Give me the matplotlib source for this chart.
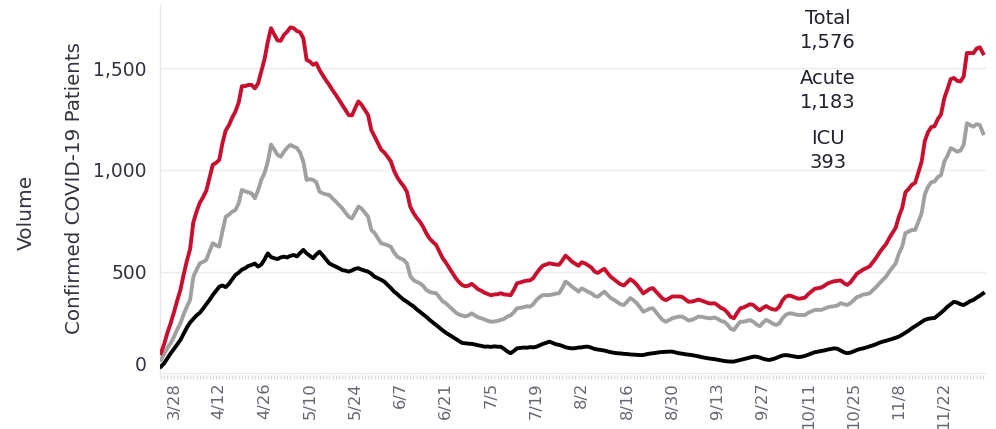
import numpy as np
import matplotlib
matplotlib.use("Agg")
import matplotlib.pyplot as plt
import matplotlib.transforms as mtransforms

# ---- data (daily, 255 days) ----
icu = [
    33, 50, 75, 99, 120, 142, 164, 195, 225, 250,
    268, 285, 298, 318, 340, 361, 385, 405, 426, 432,
    424, 440, 462, 484, 495, 510, 517, 528, 533, 540,
    525, 535, 560, 590, 572, 566, 562, 570, 574, 570,
    578, 582, 575, 592, 607, 590, 578, 566, 585, 598,
    580, 560, 541, 532, 525, 517, 508, 505, 500, 506,
    514, 517, 510, 505, 500, 490, 475, 468, 460, 451,
    435, 420, 402, 390, 375, 362, 352, 340, 330, 315,
    303, 290, 278, 263, 250, 238, 225, 212, 200, 190,
    180, 170, 160, 150, 148, 146, 145, 142, 138, 135,
    131, 132, 130, 133, 131, 131, 120, 108, 99, 110,
    123, 125, 127, 126, 129, 128, 131, 138, 145, 150,
    156, 150, 143, 140, 135, 128, 125, 123, 124, 127,
    128, 131, 131, 126, 120, 117, 115, 112, 108, 104,
    101, 99, 98, 96, 95, 93, 92, 91, 90, 90,
    94, 97, 99, 101, 104, 105, 106, 107, 107, 103,
    99, 97, 94, 92, 90, 87, 84, 80, 77, 74,
    72, 70, 67, 64, 61, 59, 58, 58, 62, 66,
    70, 74, 78, 82, 82, 78, 72, 68, 66, 70,
    75, 82, 88, 90, 88, 85, 82, 80, 82, 86,
    92, 98, 104, 107, 110, 113, 117, 120, 123, 121,
    112, 104, 99, 102, 108, 115, 120, 123, 128, 133,
    138, 144, 151, 156, 160, 165, 170, 175, 181, 190,
    200, 210, 222, 232, 242, 253, 263, 268, 271, 272,
    285, 298, 312, 328, 340, 352, 348, 340, 336, 345,
    355, 361, 372, 382, 393,
]

acute = [
    66, 95, 125, 148, 180, 215, 246, 290, 328, 361,
    475, 510, 541, 548, 558, 600, 640, 630, 623, 700,
    770, 780, 795, 803, 836, 902, 895, 890, 885, 861,
    900, 951, 985, 1040, 1125, 1100, 1075, 1065, 1090, 1110,
    1123, 1115, 1108, 1085, 1040, 951, 955, 951, 940, 893,
    885, 880, 877, 860, 845, 828, 812, 790, 770, 762,
    790, 820, 810, 790, 770, 705, 690, 665, 640, 635,
    630, 623, 595, 574, 565, 558, 540, 480, 459, 450,
    443, 430, 410, 400, 396, 394, 375, 355, 345, 330,
    315, 300, 290, 285, 280, 285, 295, 285, 275, 271,
    265, 258, 254, 255, 258, 263, 268, 279, 285, 300,
    320, 322, 325, 330, 328, 340, 361, 375, 385, 385,
    385, 388, 392, 394, 420, 451, 440, 426, 415, 402,
    418, 410, 400, 394, 380, 377, 390, 402, 385, 370,
    361, 350, 340, 336, 352, 370, 360, 345, 325, 303,
    310, 318, 320, 300, 280, 262, 254, 262, 271, 275,
    279, 279, 270, 260, 263, 270, 279, 278, 275, 272,
    271, 275, 268, 258, 254, 240, 220, 213, 235, 254,
    254, 258, 262, 254, 240, 232, 250, 263, 255, 245,
    238, 245, 270, 287, 295, 294, 290, 287, 287, 287,
    298, 305, 312, 312, 312, 318, 325, 328, 330, 334,
    345, 340, 336, 345, 360, 375, 380, 388, 390, 394,
    410, 425, 443, 460, 475, 500, 520, 541, 590, 623,
    690, 697, 705, 705, 745, 787, 880, 918, 940, 943,
    965, 975, 1040, 1070, 1107, 1100, 1090, 1095, 1123, 1230,
    1220, 1213, 1225, 1221, 1180,
]

tick_labels = ["3/28", "4/12", "4/26", "5/10", "5/24", "6/7", "6/21", "7/5",
               "7/19", "8/2", "8/16", "8/30", "9/13", "9/27", "10/11",
               "10/25", "11/8", "11/22"]

summary_labels = ["Total", "Acute", "ICU"]
summary_values = ["1,576", "1,183", "393"]

icu = np.array(icu, dtype=float)
acute = np.array(acute, dtype=float)
total = acute + icu
days = np.arange(len(icu))

# ---- figure ----
W, H = 996, 429
fig = plt.figure(figsize=(W / 100, H / 100), dpi=100)
ax = fig.add_axes([160 / W, 1 - 375 / H, (986 - 160) / W, (375 - 5) / H])

lw = 2.8
ax.plot(days, icu, color="#000000", lw=lw, solid_joinstyle="round", zorder=3)
ax.plot(days, acute, color="#a0a0a0", lw=lw, solid_joinstyle="round", zorder=3)
ax.plot(days, total, color="#c8102e", lw=lw, solid_joinstyle="round", zorder=4)

ax.set_xlim(-0.3, 254.9)
ax.set_ylim(-8, 1811)

# grid
ax.set_yticks([0, 500, 1000, 1500])
ax.set_yticklabels(["0", "500", "1,000", "1,500"])
ax.yaxis.grid(True, color="#ebebeb", lw=1)
ax.xaxis.grid(False)
ax.set_axisbelow(True)

for s in ["top", "right", "bottom"]:
    ax.spines[s].set_visible(False)
ax.spines["left"].set_color("#e8e8e8")
ax.spines["left"].set_linewidth(1)

ax.tick_params(axis="y", length=0, pad=9.5, labelsize=13.5, labelcolor="#333340")
ax.set_xticks(4 + 14 * np.arange(len(tick_labels)))
ax.set_xticklabels(tick_labels, rotation=90, va="top", ha="center")
ax.set_xticks(days, minor=True)
ax.tick_params(axis="x", which="both", length=3, width=1, color="#dcdcdc",
               direction="out", pad=2, labelsize=11.8, labelcolor="#666670")

# shift the "0" label up a little (as in the reference)
for lab in ax.get_yticklabels():
    if lab.get_text() == "0":
        lab.set_transform(lab.get_transform() +
                          mtransforms.ScaledTranslation(0, 10 / 100, fig.dpi_scale_trans))

# axis titles
fig.text(26 / W, 1 - 212 / H, "Volume", rotation=90, ha="center", va="center",
         fontsize=14.5, color="#333340")
fig.text(75 / W, 1 - 188 / H, "Confirmed COVID-19 Patients", rotation=90,
         ha="center", va="center", fontsize=14.3, color="#333340")

# summary annotations
ys = [18, 78, 138]
for lab, val, y in zip(summary_labels, summary_values, ys):
    fig.text(828 / W, 1 - y / H, lab, ha="center", va="center", fontsize=14, color="#222230")
    fig.text(828 / W, 1 - (y + 24) / H, val, ha="center", va="center", fontsize=14, color="#222230")

fig.savefig("out.png", dpi=100)
